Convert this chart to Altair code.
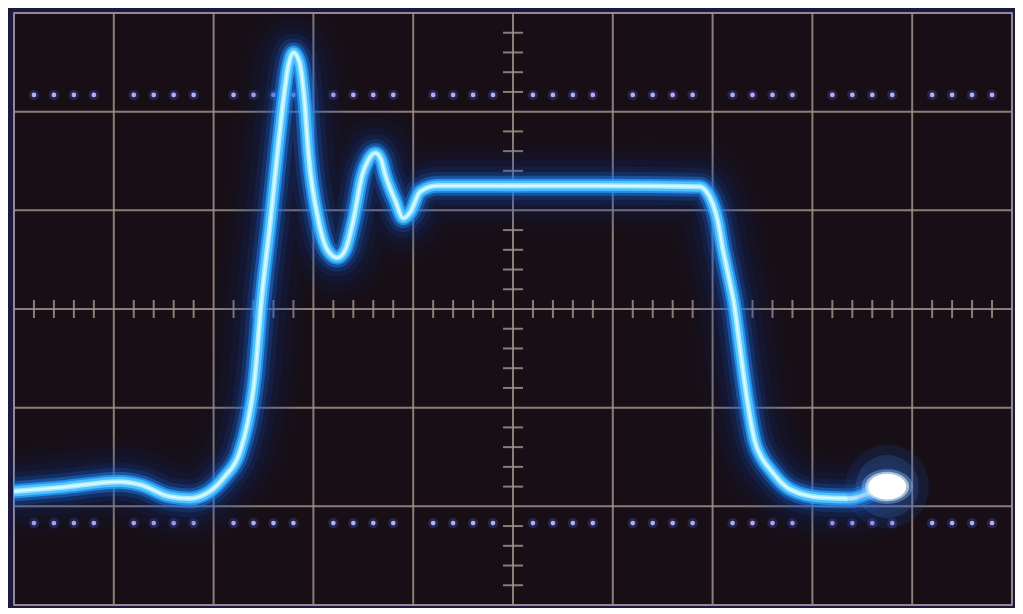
import altair as alt
import pandas as pd

# ---- trace (divisions: x 0..10, y 0..6) ----
trace_x = [-0.02, 0.46, 1.06, 1.26, 1.56, 1.76, 1.96, 2.11, 2.26, 2.34, 2.41, 2.48,
           2.57, 2.64, 2.70, 2.75, 2.80, 2.86, 2.91, 2.95, 3.05, 3.14, 3.24, 3.32,
           3.40, 3.49, 3.55, 3.62, 3.68, 3.72, 3.82, 3.90, 3.97, 4.07, 4.24, 4.87,
           5.87, 6.87, 6.93, 7.00, 7.05, 7.10, 7.16, 7.22, 7.27, 7.32, 7.37, 7.42,
           7.50, 7.58, 7.68, 7.78, 8.08, 8.38, 8.58, 8.75]
trace_y = [1.15, 1.19, 1.25, 1.22, 1.10, 1.08, 1.15, 1.30, 1.54, 1.84, 2.28, 3.09,
           3.90, 4.58, 5.12, 5.47, 5.60, 5.50, 5.12, 4.58, 3.90, 3.60, 3.52, 3.60,
           3.90, 4.36, 4.51, 4.58, 4.51, 4.36, 4.10, 3.92, 3.98, 4.19, 4.25, 4.25,
           4.25, 4.24, 4.20, 4.07, 3.90, 3.62, 3.33, 3.02, 2.64, 2.26, 1.93, 1.67,
           1.48, 1.37, 1.25, 1.17, 1.09, 1.08, 1.14, 1.20]

spot_x = [8.75]
spot_y = [1.20]

# ---- graticule ----
major_x = [0, 1, 2, 3, 4, 5, 6, 7, 8, 9, 10]
major_y = [0, 1, 2, 3, 4, 5, 6]
minor_offsets = [0.2, 0.4, 0.6, 0.8]
dot_rows = [0.83, 5.17]
center_x = 5
center_y = 3

trace = pd.DataFrame({"x": trace_x, "y": trace_y, "i": list(range(len(trace_x)))})
spot = pd.DataFrame({"x": spot_x, "y": spot_y})
vgrid = pd.DataFrame({"x": major_x})
hgrid = pd.DataFrame({"y": major_y})

dots = pd.DataFrame([{"x": c + o, "y": r}
                     for r in dot_rows for c in major_x[:-1] for o in minor_offsets])
vticks = pd.DataFrame([{"x": center_x, "y": c + o}
                       for c in major_y[:-1] for o in minor_offsets])
hticks = pd.DataFrame([{"x": c + o, "y": center_y}
                       for c in major_x[:-1] for o in minor_offsets])

X = alt.Scale(domain=[0, 10], nice=False, zero=False)
Y = alt.Scale(domain=[0, 6], nice=False, zero=False)

grid_color = "#a09088"

v_lines = alt.Chart(vgrid).mark_rule(color=grid_color, strokeWidth=2, opacity=0.85).encode(
    x=alt.X("x:Q", scale=X, axis=None))
h_lines = alt.Chart(hgrid).mark_rule(color=grid_color, strokeWidth=2, opacity=0.85).encode(
    y=alt.Y("y:Q", scale=Y, axis=None))

dot_halo = alt.Chart(dots).mark_point(filled=True, shape="circle", color="#3a3a7a",
                                      size=110, opacity=0.5).encode(
    x=alt.X("x:Q", scale=X, axis=None), y=alt.Y("y:Q", scale=Y, axis=None))
dot_core = alt.Chart(dots).mark_point(filled=True, shape="circle", color="#b8b8ff",
                                      size=22, opacity=0.95).encode(
    x=alt.X("x:Q", scale=X, axis=None), y=alt.Y("y:Q", scale=Y, axis=None))

vt = alt.Chart(vticks).mark_tick(orient="horizontal", size=20, thickness=2,
                                 color=grid_color, opacity=0.85).encode(
    x=alt.X("x:Q", scale=X, axis=None), y=alt.Y("y:Q", scale=Y, axis=None))
ht = alt.Chart(hticks).mark_tick(orient="vertical", size=18, thickness=2,
                                 color=grid_color, opacity=0.85).encode(
    x=alt.X("x:Q", scale=X, axis=None), y=alt.Y("y:Q", scale=Y, axis=None))


def glow(width, color, opacity):
    return alt.Chart(trace).mark_line(interpolate="monotone", strokeWidth=width,
                                      color=color, opacity=opacity, clip=True,
                                      strokeCap="round", strokeJoin="round").encode(
        x=alt.X("x:Q", scale=X, axis=None),
        y=alt.Y("y:Q", scale=Y, axis=None),
        order="i:Q")


layers = [
    glow(90, "#0a2a80", 0.06),
    glow(70, "#0c3490", 0.07),
    glow(52, "#0f44b0", 0.09),
    glow(38, "#1458d0", 0.12),
    glow(28, "#186ee8", 0.20),
    glow(20, "#1f88f8", 0.40),
    glow(14, "#2aa4ff", 0.75),
    glow(10, "#50c4ff", 0.95),
    glow(5, "#a8ecff", 1.0),
    glow(2, "#e0faff", 0.9),
]

ellipse = "M-1,0 A1,0.68 0 1,0 1,0 A1,0.68 0 1,0 -1,0 Z"


def spot_layer(shape, color, size, opacity):
    return alt.Chart(spot).mark_point(filled=True, shape=shape, color=color,
                                      size=size, opacity=opacity, strokeWidth=0).encode(
        x=alt.X("x:Q", scale=X, axis=None), y=alt.Y("y:Q", scale=Y, axis=None))


spots = [
    spot_layer("circle", "#2a64d0", 7000, 0.12),
    spot_layer("circle", "#4a90f0", 4000, 0.18),
    spot_layer(ellipse, "#9fd0ff", 2600, 0.35),
    spot_layer(ellipse, "#e8f6ff", 1900, 0.6),
    spot_layer(ellipse, "#ffffff", 1450, 1.0),
]

chart = alt.layer(
    v_lines, h_lines, vt, ht, dot_halo, dot_core, *layers, *spots
).properties(
    width=998, height=592,
    autosize=alt.AutoSizeParams(type="none"),
    padding={"left": 6, "top": 5, "right": 3, "bottom": 3},
    background="#1b1a3e",
).configure_view(fill="#170f15", stroke="#5a58b8", strokeWidth=2)

chart.save("out.html", embed_options={"renderer": "svg", "actions": False})
